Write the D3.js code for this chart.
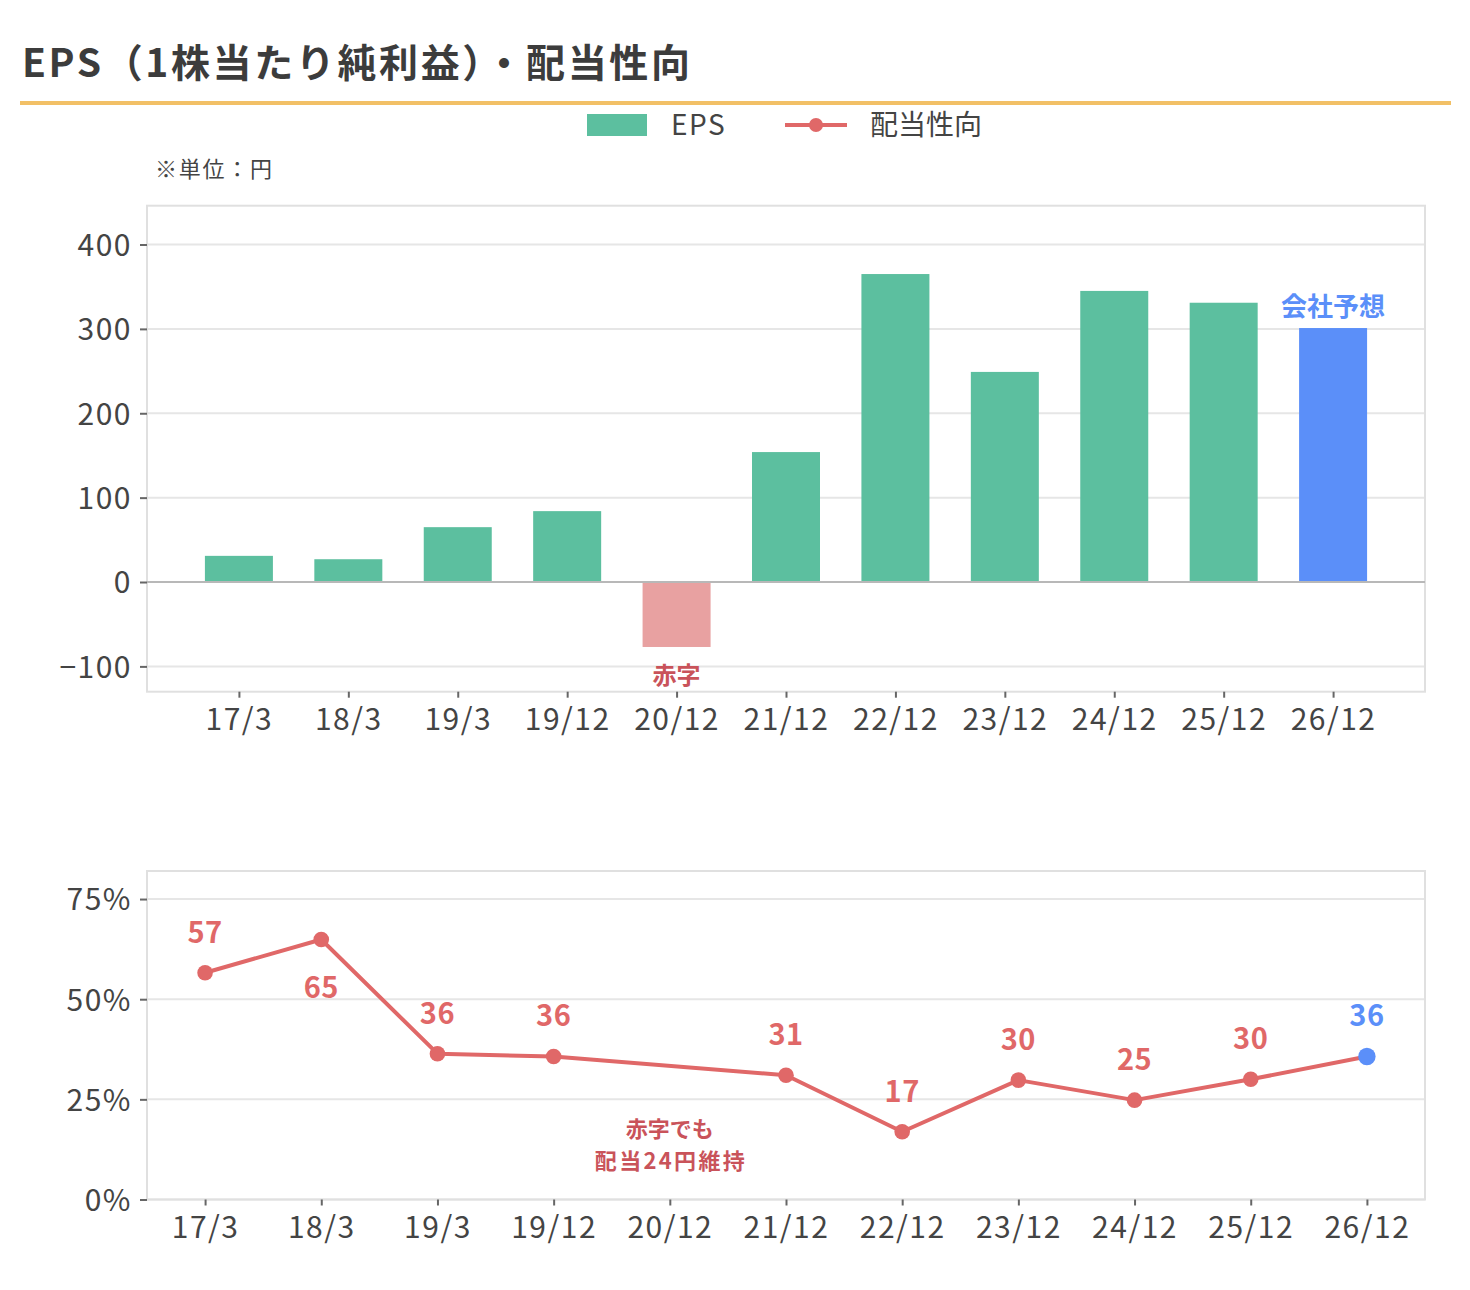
<!DOCTYPE html>
<html lang="ja">
<head>
<meta charset="utf-8">
<script src="https://cdn.jsdelivr.net/npm/d3@7"></script>
<style>
  body { margin: 0; background: #fff; }
  svg text { font-family: "Noto Sans CJK JP", "Noto Sans", sans-serif; }
</style>
</head>
<body>
<div id="chart"></div>
<script>
// ---- data ----
const periods = ["17/3", "18/3", "19/3", "19/12", "20/12", "21/12", "22/12", "23/12", "24/12", "25/12", "26/12"]
const eps = [31, 27, 65, 84, -77, 154, 365, 249, 345, 331, 301]
const payout = [56.6, 64.9, 36.4, 35.7, null, 31.0, 16.9, 29.8, 24.8, 30.0, 35.7]
const forecastPeriod = "26/12"
const epsTicks = [-100, 0, 100, 200, 300, 400]
const payoutTicks = [0, 25, 50, 75]

const W = 1470, H = 1290
const text_color = "#444"
const green = "#5cbf9f", pink = "#e8a1a1", blue = "#5b8ff9", red = "#e06868", darkred = "#c9535a"

const svg = d3.select("#chart").append("svg")
  .attr("width", W).attr("height", H)

svg.append("rect").attr("width", W).attr("height", H).attr("fill", "#fff")

// title
svg.append("text")
  .attr("x", 22).attr("y", 77)
  .attr("font-size", 39).attr("font-weight", 700).attr("fill", "#3c3c3c")
  .attr("textLength", 668).attr("lengthAdjust", "spacing")
  .text("EPS（1株当たり純利益）・配当性向")

svg.append("rect")
  .attr("x", 20).attr("y", 101).attr("width", 1431).attr("height", 4)
  .attr("fill", "#f2c066")

// legend
svg.append("rect").attr("x", 587).attr("y", 114).attr("width", 60).attr("height", 22).attr("fill", green)
svg.append("text").attr("x", 671).attr("y", 135).attr("font-size", 28).attr("letter-spacing", 1.5)
  .attr("fill", text_color).text("EPS")
svg.append("line").attr("x1", 785).attr("x2", 847).attr("y1", 125).attr("y2", 125)
  .attr("stroke", red).attr("stroke-width", 4)
svg.append("circle").attr("cx", 816).attr("cy", 125).attr("r", 7).attr("fill", red)
svg.append("text").attr("x", 870).attr("y", 135).attr("font-size", 28).attr("fill", text_color).text("配当性向")

svg.append("text").attr("x", 155).attr("y", 177).attr("font-size", 22)
  .attr("textLength", 117).attr("lengthAdjust", "spacing")
  .attr("fill", text_color).text("※単位：円")

// ---- EPS bar chart ----
const left = 147, right = 1425
const x1 = d3.scalePoint().domain(periods).range([left, right]).padding(0.84)
const y1 = d3.scaleLinear().domain([-130, 446]).range([691.7, 205.7])
const barW = 68

function styleAxis(g) {
  g.select(".domain").remove()
  g.selectAll("text").attr("font-size", 30).attr("letter-spacing", 1.5).attr("fill", text_color)
  g.selectAll(".tick line").attr("stroke", "#666").attr("stroke-width", 2)
}

// grid
svg.append("g").selectAll("line").data(epsTicks).join("line")
  .attr("x1", left).attr("x2", right)
  .attr("y1", d => y1(d)).attr("y2", d => y1(d))
  .attr("stroke", d => d === 0 ? "#b8b8b8" : "#e6e6e6").attr("stroke-width", 2)

svg.append("rect")
  .attr("x", left).attr("y", y1.range()[1]).attr("width", right - left)
  .attr("height", y1.range()[0] - y1.range()[1])
  .attr("fill", "none").attr("stroke", "#e0e0e0").attr("stroke-width", 2)

svg.append("g").attr("transform", "translate(" + left + ",0)")
  .call(d3.axisLeft(y1).tickValues(epsTicks).tickSize(7).tickPadding(8))
  .call(styleAxis)
  .selectAll("text").attr("dy", "0.36em")

svg.append("g").attr("transform", "translate(0," + y1.range()[0] + ")")
  .call(d3.axisBottom(x1).tickSize(6).tickPadding(8))
  .call(styleAxis)
  .selectAll("text").attr("dy", "0.8em")

svg.append("g").selectAll("rect").data(periods).join("rect")
  .attr("x", d => x1(d) - barW / 2)
  .attr("width", barW)
  .attr("y", (d, i) => y1(Math.max(0, eps[i])))
  .attr("height", (d, i) => Math.abs(y1(eps[i]) - y1(0)))
  .attr("fill", (d, i) => d === forecastPeriod ? blue : (eps[i] < 0 ? pink : green))

// redraw zero line on top of bars
svg.append("line").attr("x1", left).attr("x2", right)
  .attr("y1", y1(0)).attr("y2", y1(0)).attr("stroke", "#b8b8b8").attr("stroke-width", 2)

svg.append("text")
  .attr("x", x1(forecastPeriod)).attr("y", y1(eps[periods.indexOf(forecastPeriod)]) - 12)
  .attr("text-anchor", "middle").attr("font-size", 26).attr("font-weight", 700).attr("fill", blue)
  .text("会社予想")

const lossIdx = eps.findIndex(v => v < 0)
svg.append("text")
  .attr("x", x1(periods[lossIdx])).attr("y", y1(eps[lossIdx]) + 37)
  .attr("text-anchor", "middle").attr("font-size", 24).attr("font-weight", 700).attr("fill", darkred)
  .text("赤字")

// ---- payout ratio line chart ----
const x2 = d3.scalePoint().domain(periods).range([left, right]).padding(0.5)
const y2 = d3.scaleLinear().domain([0, 82]).range([1199.5, 871])

svg.append("g").selectAll("line").data(payoutTicks).join("line")
  .attr("x1", left).attr("x2", right)
  .attr("y1", d => y2(d)).attr("y2", d => y2(d))
  .attr("stroke", "#e6e6e6").attr("stroke-width", 2)

svg.append("rect")
  .attr("x", left).attr("y", y2.range()[1]).attr("width", right - left)
  .attr("height", y2.range()[0] - y2.range()[1])
  .attr("fill", "none").attr("stroke", "#e0e0e0").attr("stroke-width", 2)

svg.append("g").attr("transform", "translate(" + left + ",0)")
  .call(d3.axisLeft(y2).tickValues(payoutTicks).tickFormat(d => d + "%").tickSize(7).tickPadding(8))
  .call(styleAxis)
  .selectAll("text").attr("dy", "0.36em")

svg.append("g").attr("transform", "translate(0," + y2.range()[0] + ")")
  .call(d3.axisBottom(x2).tickSize(6).tickPadding(8))
  .call(styleAxis)
  .selectAll("text").attr("dy", "0.8em")

const pts = periods.map((p, i) => ({ p: p, v: payout[i] })).filter(d => d.v != null)

svg.append("path").datum(pts)
  .attr("fill", "none").attr("stroke", red).attr("stroke-width", 4).attr("stroke-linejoin", "round")
  .attr("d", d3.line().x(d => x2(d.p)).y(d => y2(d.v)))

svg.append("g").selectAll("circle").data(pts).join("circle")
  .attr("cx", d => x2(d.p)).attr("cy", d => y2(d.v))
  .attr("r", d => d.p === forecastPeriod ? 8.7 : 7.8)
  .attr("fill", d => d.p === forecastPeriod ? blue : red)

const labelBelow = ["18/3"]
svg.append("g").selectAll("text").data(pts).join("text")
  .attr("x", d => x2(d.p))
  .attr("y", d => labelBelow.includes(d.p) ? y2(d.v) + 58 : y2(d.v) - 30)
  .attr("text-anchor", "middle").attr("font-size", 29).attr("font-weight", 700).attr("letter-spacing", 0.5)
  .attr("fill", d => d.p === forecastPeriod ? blue : red)
  .text(d => Math.round(d.v))

// note under the loss year (no dot drawn there)
const noteX = x2(periods[lossIdx])
svg.append("text").attr("x", noteX).attr("y", y2(15) - 2)
  .attr("text-anchor", "middle").attr("font-size", 22).attr("font-weight", 700).attr("fill", darkred)
  .text("赤字でも")
svg.append("text").attr("x", noteX).attr("y", y2(15) + 30)
  .attr("text-anchor", "middle").attr("font-size", 22).attr("font-weight", 700).attr("fill", darkred)
  .attr("textLength", 150).attr("lengthAdjust", "spacing")
  .text("配当24円維持")
</script>
</body>
</html>
